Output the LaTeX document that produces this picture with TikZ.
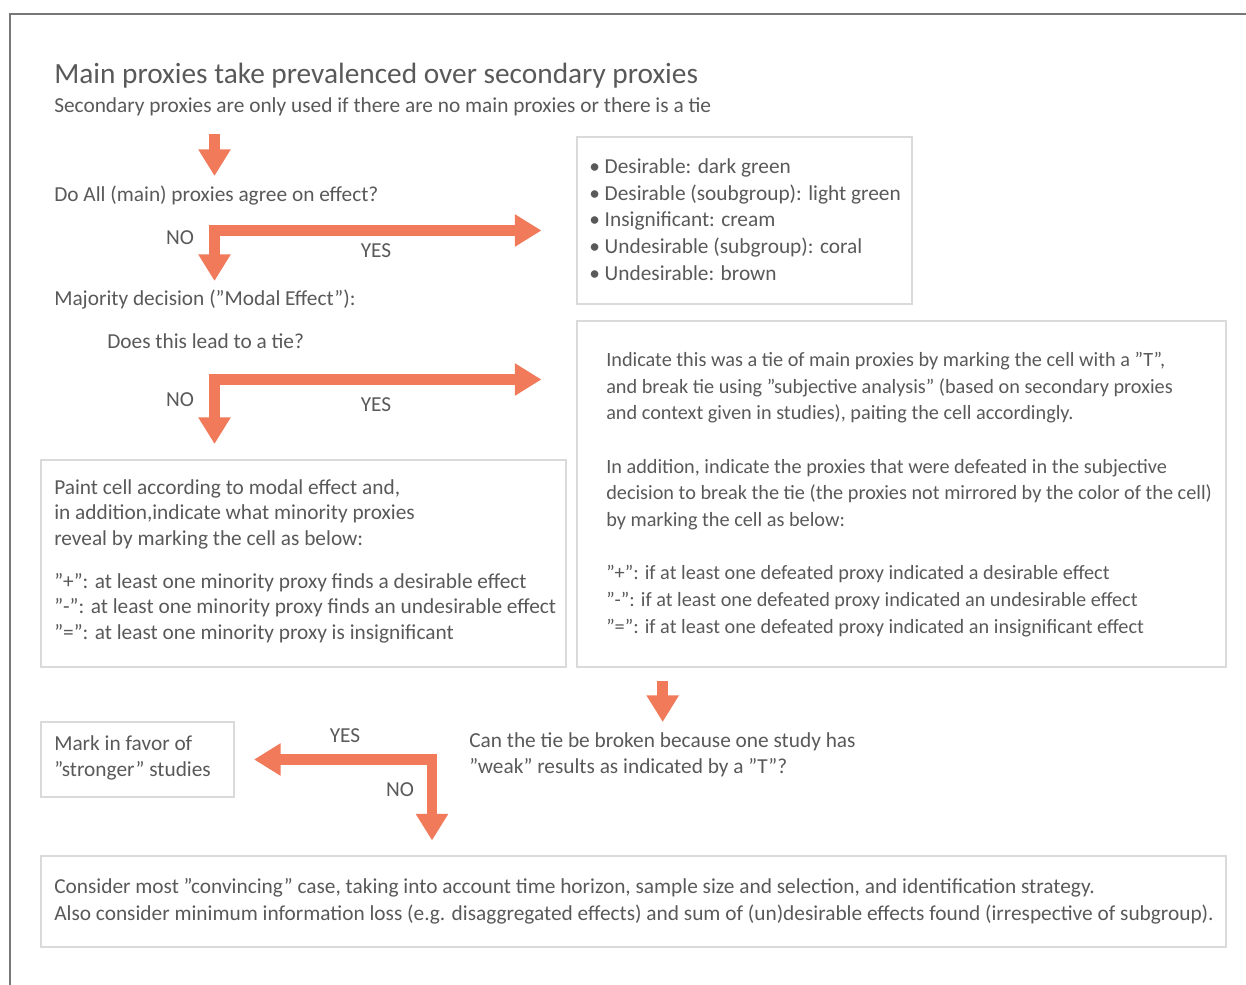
\documentclass[tikz,border=0pt]{standalone}
\usepackage{fontspec}
\setmainfont{Carlito}
\usepackage{xcolor}
\usetikzlibrary{arrows.meta,positioning,fit}

\definecolor{arrowred}{RGB}{240,122,90}
\definecolor{txtgray}{RGB}{89,89,89}
\definecolor{boxgray}{RGB}{218,218,218}
\definecolor{framegray}{RGB}{120,120,120}

\tikzset{
  blockarrow/.style={line width=8pt, arrowred, line cap=rect, -{Triangle[width=23pt,length=20pt]}},
  txt/.style={anchor=base west, inner sep=0pt, text=txtgray, align=left, font=\fontsize{16}{20}\selectfont},
  yesno/.style={inner sep=0pt, text=txtgray, font=\fontsize{16}{20}\selectfont},
  box/.style={draw=boxgray, line width=1pt, inner sep=0pt}
}

\begin{document}
\begin{tikzpicture}[x=0.75pt,y=-0.75pt]
\useasboundingbox (0,0) rectangle (1246,985);
% outer frame
\draw[framegray, line width=1.2pt] (10,985) -- (10,14) -- (1246,14);

% headings (base = last line)
\node[txt, font=\fontsize{22}{26}\selectfont] (title) at (54,83) {Main proxies take prevalenced over secondary proxies};
\node[txt] (subtitle) at (54,112) {Secondary proxies are only used if there are no main proxies or there is a tie};

% boxes
\node[box, fit={(577,137) (912,304)}] (legendbox) {};
\node[box, fit={(577,321) (1226,667)}] (tiebox) {};
\node[box, fit={(41,460) (566,667)}] (paintbox) {};
\node[box, fit={(41,722) (234,797)}] (markbox) {};
\node[box, fit={(41,856) (1226,947)}] (considerbox) {};

% questions
\node[txt] (agreeq) at (54,201) {Do All (main) proxies agree on effect?};
\node[txt] (majority) at (54,305) {Majority decision (”Modal Effect”):};
\node[txt] (tieq) at (107,348) {Does this lead to a tie?};
\node[txt, font=\fontsize{16}{19.5}\selectfont] (breakq) at (469,773) {Can the tie be broken because one study has\\ ”weak” results as indicated by a ”T”?};

% box texts
\node[txt] (legend) at (589,280) {• Desirable: dark green\\ • Desirable (soubgroup): light green\\ • Insignificant: cream\\ • Undesirable (subgroup): coral\\ • Undesirable: brown};
\node[txt, font=\fontsize{15.2}{20}\selectfont] (tietext) at (606,633) {Indicate this was a tie of main proxies by marking the cell with a ”T”,\\ and break tie using ”subjective analysis” (based on secondary proxies\\ and context given in studies), paiting the cell accordingly.\\[20pt]
In addition, indicate the proxies that were defeated in the subjective\\ decision to break the tie (the proxies not mirrored by the color of the cell)\\ by marking the cell as below:\\[20pt]
”+”: if at least one defeated proxy indicated a desirable effect\\ ”-”: if at least one defeated proxy indicated an undesirable effect\\ ”=”: if at least one defeated proxy indicated an insignificant effect};
\node[txt, font=\fontsize{16}{19.1}\selectfont] (painttext) at (54,639) {Paint cell according to modal effect and,\\ in addition,indicate what minority proxies\\ reveal by marking the cell as below:\\[13pt]
”+”: at least one minority proxy finds a desirable effect\\ ”-”: at least one minority proxy finds an undesirable effect\\ ”=”: at least one minority proxy is insignificant};
\node[txt, font=\fontsize{16}{19}\selectfont] (marktext) at (54,776) {Mark in favor of\\ ”stronger” studies};
\node[txt] (considertext) at (54,920) {Consider most ”convincing” case, taking into account time horizon, sample size and selection, and identification strategy.\\ Also consider minimum information loss (e.g. disaggregated effects) and sum of (un)desirable effects found (irrespective of subgroup).};

% arrow ends
\coordinate (start) at (214.5,139);
\coordinate (startend) at (214.5,176);
\coordinate (agreec) at (214.5,230.5);
\coordinate (agreeyes) at (541.5,230.5);
\coordinate (agreeno) at (214.5,281);
\coordinate (tiec) at (214.5,379.5);
\coordinate (tieyes) at (541.5,379.5);
\coordinate (tieno) at (214.5,444);
\coordinate (down) at (662.7,686);
\coordinate (downend) at (662.7,722);
\coordinate (breakc) at (432,759.5);
\coordinate (breakyes) at (254,759.5);
\coordinate (breakno) at (432,840.5);

\draw[blockarrow] (start) -- (startend);
\draw[blockarrow] (agreec) -- (agreeyes);
\draw[blockarrow] (agreec) -- (agreeno);
\draw[blockarrow] (tiec) -- (tieyes);
\draw[blockarrow] (tiec) -- (tieno);
\draw[blockarrow] (down) -- (downend);
\draw[blockarrow] (breakc) -- (breakyes);
\draw[blockarrow] (breakc) -- (breakno);

% yes / no labels
\node[yesno] (agreenolbl) at (180,238) {NO};
\node[yesno] (agreeyeslbl) at (376,251) {YES};
\node[yesno] (tienolbl) at (180,400) {NO};
\node[yesno] (tieyeslbl) at (376,405) {YES};
\node[yesno] (breakyeslbl) at (345,736) {YES};
\node[yesno] (breaknolbl) at (400,790) {NO};
\end{tikzpicture}
\end{document}
